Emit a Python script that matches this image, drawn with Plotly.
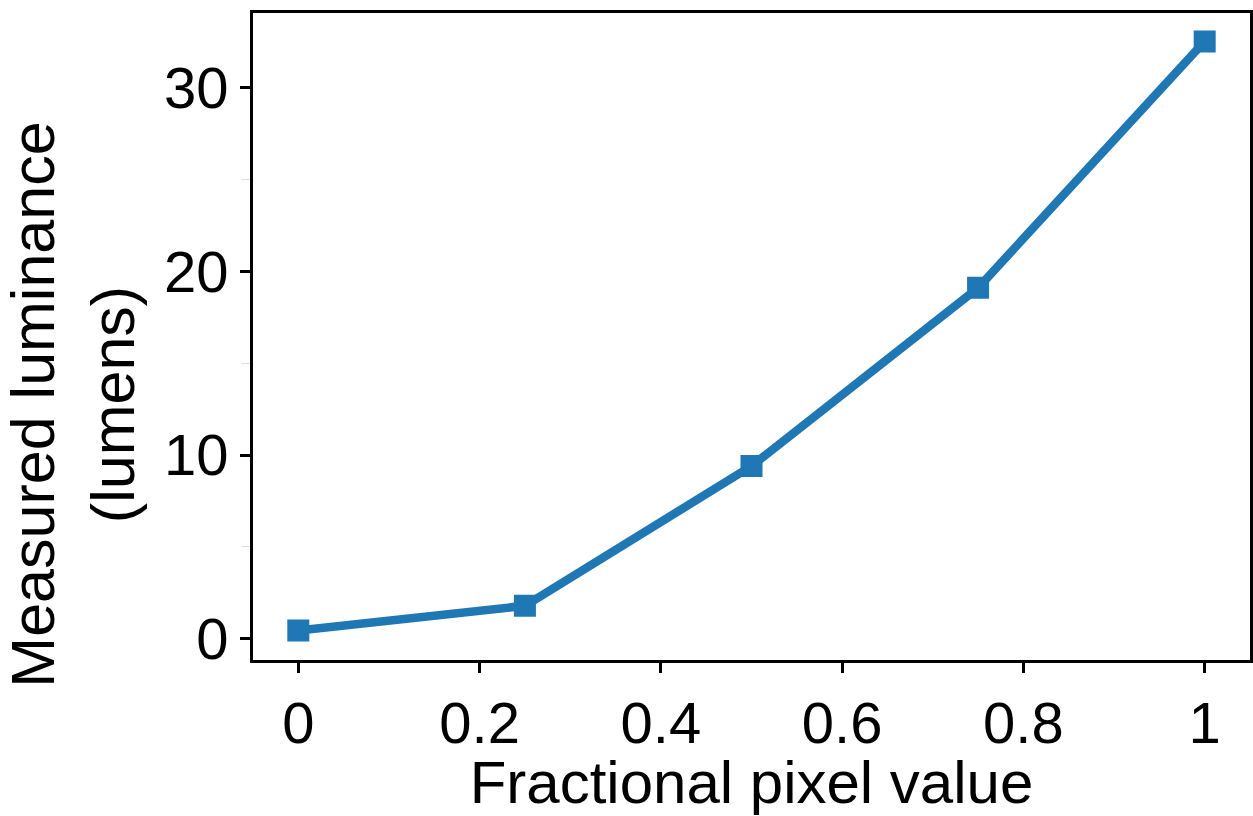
import plotly.graph_objects as go

pixel_value = [0, 0.25, 0.5, 0.75, 1.0]
luminance = [0.45, 1.8, 9.4, 19.1, 32.5]

x_tickvals = [0, 0.2, 0.4, 0.6, 0.8, 1.0]
x_ticktext = ["0", "0.2", "0.4", "0.6", "0.8", "1"]
y_tickvals = [0, 10, 20, 30]
y_ticktext = ["0", "10", "20", "30"]

FONT = "Liberation Sans, Arial, sans-serif"
BLUE = "#1f77b4"

fig = go.Figure()
fig.add_trace(go.Scatter(
    x=pixel_value, y=luminance, mode="lines+markers",
    line=dict(color=BLUE, width=8.5),
    marker=dict(symbol="square", size=18, color=BLUE, line=dict(color=BLUE, width=4)),
    showlegend=False,
))

fig.update_layout(
    width=1253, height=816,
    margin=dict(l=253, r=3, t=13, b=156),
    paper_bgcolor="white", plot_bgcolor="white",
    font=dict(family=FONT, size=58, color="black"),
)
fig.update_xaxes(
    range=[-0.05, 1.05], tickvals=x_tickvals, ticktext=x_ticktext,
    showgrid=False, zeroline=False, automargin=False,
    showline=True, linecolor="black", linewidth=3, mirror=True,
    ticks="outside", ticklen=10, tickwidth=3, tickcolor="black",
    tickfont=dict(size=58),
    title=dict(text="Fractional pixel value", font=dict(size=60), standoff=24),
)
fig.update_yaxes(
    range=[-1.15, 34.05], tickvals=y_tickvals, ticktext=y_ticktext,
    showgrid=False, zeroline=False, automargin=False,
    showline=True, linecolor="black", linewidth=3, mirror=True,
    ticks="outside", ticklen=10, tickwidth=3, tickcolor="black",
    tickfont=dict(size=58),
    minor=dict(dtick=5, tick0=0, ticks="outside", ticklen=8, tickwidth=1, tickcolor="#dddddd", showgrid=False),
)
fig.add_annotation(
    text="Measured luminance<br>(lumens)", textangle=-90,
    xref="paper", yref="paper", x=-0.181, y=0.394,
    xanchor="center", yanchor="middle", align="center",
    showarrow=False, font=dict(size=61, family=FONT, color="black"),
)

fig.write_html("out.html")
